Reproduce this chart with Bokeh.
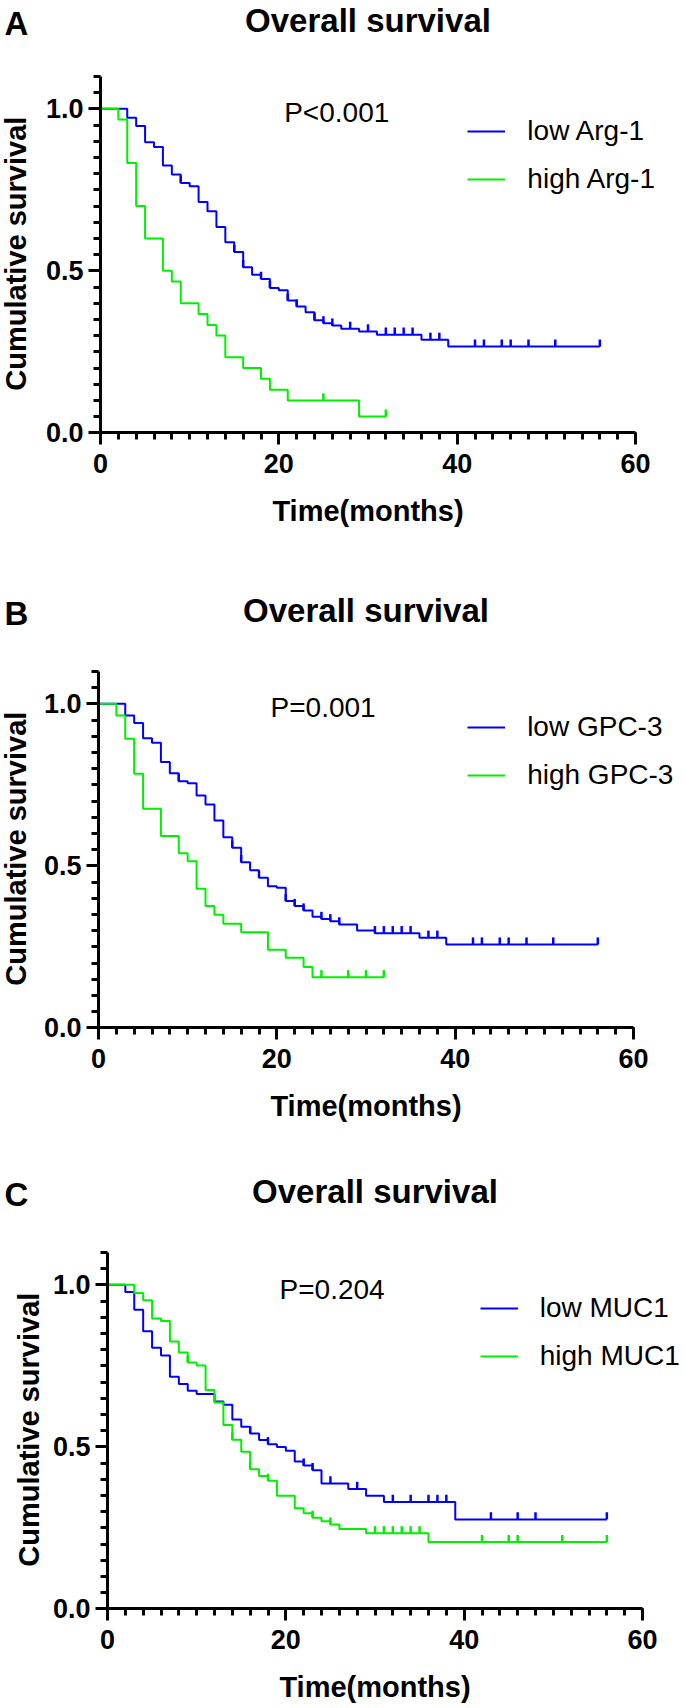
import numpy as np
from bokeh.plotting import figure
from bokeh.models import (Range1d, FixedTicker, Label, Legend, LegendItem, LinearAxis,
                          PrintfTickFormatter, ColumnDataSource)
from bokeh.layouts import column
from bokeh.embed import file_html
from bokeh.resources import INLINE

# ---------------- data ----------------
title_text = "Overall survival"
x_label = "Time(months)"
y_label = "Cumulative survival"
x_ticks = [0, 20, 40, 60]
y_ticks = [0.0, 0.5, 1.0]

# Panel A: Arg-1
a_labels = ["low Arg-1", "high Arg-1"]
a_p = "P<0.001"
a_low_t = [3, 4, 5, 6, 7, 8, 9, 10, 11, 12, 13, 14, 15, 16, 17, 18, 19, 20, 21, 22, 23, 24, 25, 26, 27, 29, 31, 36, 39]
a_low_s = [0.972, 0.947, 0.897, 0.882, 0.825, 0.797, 0.771, 0.761, 0.712, 0.684, 0.635, 0.588, 0.558, 0.511,
           0.488, 0.475, 0.447, 0.440, 0.408, 0.390, 0.372, 0.347, 0.338, 0.331, 0.321, 0.313, 0.303, 0.287, 0.266]
a_low_end = 56
a_low_cens = [9, 15, 16, 18, 19, 21, 22, 24, 25, 26, 28, 30, 32, 33, 34, 35, 37, 38, 42, 43, 45, 46, 48, 51, 56]
a_high_t = [2, 3, 4, 5, 7, 8, 9, 11, 12, 13, 14, 16, 18, 19, 21, 29]
a_high_s = [0.967, 0.833, 0.700, 0.600, 0.500, 0.467, 0.400, 0.367, 0.333, 0.300, 0.233, 0.200, 0.167, 0.133, 0.100, 0.050]
a_high_end = 32
a_high_cens = [25, 32]

# Panel B: GPC-3
b_labels = ["low GPC-3", "high GPC-3"]
b_p = "P=0.001"
b_low_t = [3, 4, 5, 6, 7, 8, 9, 10, 11, 12, 13, 14, 15, 16, 17, 18, 19, 20, 21, 22, 23, 24, 25, 26, 27, 29, 31, 36, 39]
b_low_s = [0.964, 0.941, 0.894, 0.880, 0.820, 0.786, 0.761, 0.755, 0.717, 0.689, 0.640, 0.588, 0.556, 0.511,
           0.486, 0.463, 0.437, 0.432, 0.391, 0.376, 0.362, 0.343, 0.336, 0.329, 0.319, 0.300, 0.292, 0.278, 0.257]
b_low_end = 56
b_low_cens = [9, 15, 16, 18, 21, 22, 23, 25, 26, 27, 31, 32, 33, 34, 35, 37, 38, 42, 43, 45, 46, 48, 51, 56]
b_high_t = [2, 3, 4, 5, 7, 9, 10, 11, 12, 13, 14, 16, 19, 21, 23, 24]
b_high_s = [0.964, 0.892, 0.784, 0.676, 0.592, 0.539, 0.514, 0.429, 0.376, 0.349, 0.321, 0.295, 0.241, 0.216, 0.188, 0.156]
b_high_end = 32
b_high_cens = [25, 28, 30, 32]

# Panel C: MUC1
c_labels = ["low MUC1", "high MUC1"]
c_p = "P=0.204"
c_low_t = [2, 3, 4, 5, 6, 7, 8, 9, 10, 12, 13, 14, 15, 16, 17, 18, 19, 20, 21, 22, 23, 24, 27, 29, 31, 39]
c_low_s = [0.978, 0.923, 0.857, 0.806, 0.782, 0.716, 0.694, 0.673, 0.663, 0.640, 0.630, 0.584, 0.562, 0.541,
           0.521, 0.508, 0.499, 0.488, 0.455, 0.442, 0.428, 0.387, 0.370, 0.349, 0.330, 0.276]
c_low_end = 56
c_low_cens = [16, 18, 22, 23, 25, 28, 32, 34, 36, 37, 38, 43, 46, 48, 56]
c_high_t = [3, 4, 5, 6, 7, 8, 9, 10, 11, 12, 13, 14, 15, 16, 17, 18, 19, 21, 22, 23, 24, 25, 26, 29, 36]
c_high_s = [0.975, 0.952, 0.896, 0.888, 0.825, 0.791, 0.760, 0.751, 0.675, 0.637, 0.567, 0.522, 0.485, 0.431,
            0.410, 0.395, 0.349, 0.310, 0.295, 0.281, 0.270, 0.260, 0.246, 0.233, 0.206]
c_high_end = 56
c_high_cens = [9, 14, 16, 18, 23, 25, 30, 31, 32, 33, 34, 35, 42, 45, 46, 51, 56]

# ---------------- style / layout ----------------
BLUE = "#0000FF"
GREEN = "#00F000"
FONT = "Liberation Sans"
W = 685
PX_MONTH = 535 / 60.0      # pixels per month
PX_UNIT = 324.0            # pixels per survival unit


def km_source(times, survs, end):
    xs = [0] + list(times) + [end]
    ys = [1.0] + list(survs) + [survs[-1]]
    return ColumnDataSource(dict(x=xs, y=ys))


def cens_source(times, survs, cens, tick=0.022):
    t = np.asarray(times, dtype=float)
    s = np.asarray(survs, dtype=float)
    c = np.asarray(cens, dtype=float)
    idx = np.searchsorted(t, c, side="right") - 1
    y = np.where(idx < 0, 1.0, s[np.clip(idx, 0, None)])
    return ColumnDataSource(dict(x0=c, y0=y, x1=c, y1=y + tick))


def style_axis(ax):
    ax.axis_line_width = 3
    ax.axis_line_color = "black"
    ax.major_tick_line_width = 3
    ax.minor_tick_line_width = 3
    ax.major_tick_line_color = "black"
    ax.minor_tick_line_color = "black"
    ax.major_tick_in = 0
    ax.minor_tick_in = 0
    ax.major_tick_out = 12
    ax.minor_tick_out = 7
    ax.major_label_text_font = FONT
    ax.major_label_text_font_style = "bold"
    ax.major_label_text_font_size = "27px"
    ax.major_label_text_color = "black"


def panel(letter, labels, ptext, low, high, top, height, x0p, y0p,
          p_xy, leg_x, leg_y, leg_font, ylab_px, title_off):
    xr = (-x0p / PX_MONTH, (W - x0p) / PX_MONTH)
    yr = (-(top + height - y0p) / PX_UNIT, (y0p - top) / PX_UNIT)
    p = figure(width=W, height=height, x_range=Range1d(*xr), y_range=Range1d(*yr),
               output_backend="svg", toolbar_location=None, min_border=0,
               x_axis_location=None, y_axis_location=None)
    p.outline_line_color = None
    p.grid.visible = False
    p.background_fill_color = "white"
    p.border_fill_color = "white"

    xaxis = LinearAxis(fixed_location=0, bounds=(0, 60),
                       ticker=FixedTicker(ticks=x_ticks, minor_ticks=list(range(0, 61, 2))))
    style_axis(xaxis)
    xaxis.major_label_standoff = 9
    p.add_layout(xaxis, "below")
    yaxis = LinearAxis(fixed_location=0, bounds=(0, 1.1),
                       ticker=FixedTicker(ticks=y_ticks, minor_ticks=[round(i * 0.05, 2) for i in range(23)]),
                       formatter=PrintfTickFormatter(format="%.1f"))
    style_axis(yaxis)
    yaxis.major_label_standoff = 5
    p.add_layout(yaxis, "left")

    lt, ls, le, lc = low
    ht, hs, he, hc = high
    r_low = p.step("x", "y", source=km_source(lt, ls, le), mode="after", line_color=BLUE, line_width=2)
    p.segment("x0", "y0", "x1", "y1", source=cens_source(lt, ls, lc), line_color=BLUE, line_width=2.5)
    r_high = p.step("x", "y", source=km_source(ht, hs, he), mode="after", line_color=GREEN, line_width=2)
    p.segment("x0", "y0", "x1", "y1", source=cens_source(ht, hs, hc), line_color=GREEN, line_width=2.5)

    d_low = p.scatter(x=[], y=[], marker="dash", angle=np.pi / 2, line_color=BLUE, line_width=2.5)
    d_high = p.scatter(x=[], y=[], marker="dash", angle=np.pi / 2, line_color=GREEN, line_width=2.5)

    item_h = 32
    spacing = 16
    leg_h = 2 * item_h + spacing
    legend = Legend(items=[LegendItem(label=labels[0], renderers=[r_low, d_low]),
                           LegendItem(label=labels[1], renderers=[r_high, d_high])],
                    location=((leg_x - xr[0]) * PX_MONTH, (leg_y - yr[0]) * PX_UNIT + item_h / 2 - leg_h),
                    orientation="vertical", padding=0, margin=0, spacing=spacing,
                    glyph_width=38, glyph_height=item_h, label_height=item_h,
                    label_standoff=22, border_line_color=None, background_fill_alpha=0,
                    label_text_font=FONT, label_text_font_size=leg_font,
                    label_text_color="black")
    p.add_layout(legend)

    p.add_layout(Label(x=p_xy[0], y=p_xy[1], text=ptext, text_font=FONT, text_font_size="28px",
                       text_baseline="middle", text_align="left", text_color="black"))
    p.add_layout(Label(x=30, y=1.0, y_offset=title_off, text=title_text, text_font=FONT,
                       text_font_style="bold", text_font_size="33px", text_align="center",
                       text_baseline="middle", text_color="black"))
    p.add_layout(Label(x=0, y=1.0, x_offset=4 - x0p, y_offset=title_off - 3, text=letter,
                       text_font=FONT, text_font_style="bold", text_font_size="33px",
                       text_align="left", text_baseline="middle", text_color="black"))
    p.add_layout(Label(x=30, y=0, y_offset=-78, text=x_label, text_font=FONT,
                       text_font_style="bold", text_font_size="29px", text_align="center",
                       text_baseline="middle", text_color="black"))
    p.add_layout(Label(x=0, y=0.553, x_offset=ylab_px - x0p, text=y_label, text_font=FONT,
                       text_font_style="bold", text_font_size="29px", text_align="center",
                       text_baseline="middle", angle=np.pi / 2, text_color="black"))
    return p


pA = panel("A", a_labels, a_p, (a_low_t, a_low_s, a_low_end, a_low_cens),
           (a_high_t, a_high_s, a_high_end, a_high_cens),
           top=0, height=565, x0p=100, y0p=432.3, p_xy=(20.6, 0.989), leg_x=41.2, leg_y=0.931,
           leg_font="28px", ylab_px=15, title_off=88)
pB = panel("B", b_labels, b_p, (b_low_t, b_low_s, b_low_end, b_low_cens),
           (b_high_t, b_high_s, b_high_end, b_high_cens),
           top=565, height=580, x0p=98, y0p=1027.3, p_xy=(19.3, 0.989), leg_x=41.4, leg_y=0.926,
           leg_font="28px", ylab_px=15, title_off=93)
pC = panel("C", c_labels, c_p, (c_low_t, c_low_s, c_low_end, c_low_cens),
           (c_high_t, c_high_s, c_high_end, c_high_cens),
           top=1145, height=563, x0p=107, y0p=1608.3, p_xy=(19.3, 0.986), leg_x=41.8, leg_y=0.926,
           leg_font="28px", ylab_px=28, title_off=93)

layout = column(pA, pB, pC, spacing=0)
open("out.html", "w").write(file_html(layout, INLINE))
